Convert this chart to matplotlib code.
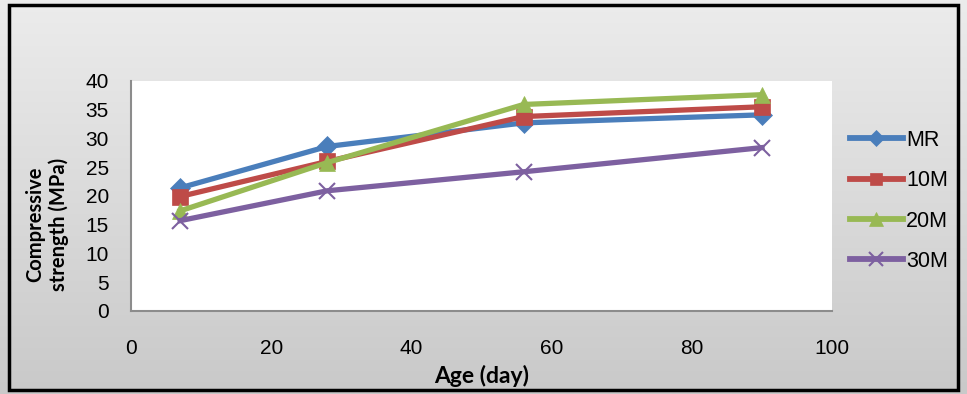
import numpy as np
import matplotlib
matplotlib.use("Agg")
import matplotlib.pyplot as plt
from matplotlib.patches import Rectangle
from matplotlib import font_manager

# Compressive strength (MPa) versus curing age (days)
age_days = [7, 28, 56, 90]
mr = [21.4, 28.6, 32.7, 34.1]
m10 = [19.9, 26.0, 33.8, 35.5]
m20 = [17.4, 25.8, 35.9, 37.6]
m30 = [15.7, 20.9, 24.2, 28.4]
series_labels = ["MR", "10M", "20M", "30M"]

x_ticks = [0, 20, 40, 60, 80, 100]
y_ticks = [0, 5, 10, 15, 20, 25, 30, 35, 40]

names = {f.name for f in font_manager.fontManager.ttflist}
tick_font = "Liberation Sans"
title_font = "Lato" if "Lato" in names else "DejaVu Sans"

fig = plt.figure(figsize=(9.67, 3.94), dpi=100)

# gray gradient backdrop
bg = fig.add_axes([0, 0, 1, 1], zorder=0)
grad = np.linspace(0, 1, 256).reshape(-1, 1)
bg.imshow(grad, aspect="auto", cmap=matplotlib.colors.LinearSegmentedColormap.from_list(
    "g", ["#ececec", "#c9c9c9"]), extent=[0, 1, 0, 1], origin="upper")
bg.set_axis_off()

# outer frame
fig.patches.append(Rectangle((0.009, 0.01), 0.982, 0.978, transform=fig.transFigure,
                             fill=False, edgecolor="black", linewidth=2.5, zorder=10))

ax = fig.add_axes([0.1355, 0.2107, 0.725, 0.584], zorder=1)
ax.set_facecolor("white")

styles = [
    (mr, "#4a7ebb", "D", 10),
    (m10, "#be4b48", "s", 11),
    (m20, "#98b954", "^", 12),
    (m30, "#7d60a0", "x", 12),
]
for (vals, col, mk, ms), lab in zip(styles, series_labels):
    ax.plot(age_days, vals, color=col, linewidth=3.8, marker=mk, markersize=ms,
            markeredgewidth=1.5 if mk == "x" else 0.5, markeredgecolor=col,
            markerfacecolor=col, label=lab, clip_on=False)

ax.set_xlim(0, 100)
ax.set_ylim(0, 40)
ax.set_xticks(x_ticks)
ax.set_yticks(y_ticks)
for s in ["top", "right"]:
    ax.spines[s].set_visible(False)
for s in ["left", "bottom"]:
    ax.spines[s].set_color("#8c8c8c")
    ax.spines[s].set_linewidth(1.5)
ax.tick_params(length=0, labelsize=15)
ax.tick_params(axis="x", pad=20)
ax.tick_params(axis="y", pad=16)
for t in ax.get_xticklabels() + ax.get_yticklabels():
    t.set_fontfamily(tick_font)

ax.set_xlabel("Age (day)", fontfamily=title_font, fontweight="bold", fontsize=16.5, labelpad=5)
fig.text(0.049, 0.431, "Compressive\nstrength (MPa)", rotation=90, ha="center", va="center",
         fontfamily=title_font, fontweight="bold", fontsize=14.5, linespacing=1.2)

leg = fig.legend(loc="center left", bbox_to_anchor=(0.879, 0.49), frameon=False,
                 prop={"family": tick_font, "size": 15.5}, handlelength=2.45,
                 handletextpad=0.15, labelspacing=0.9, borderpad=0, borderaxespad=0,
                 markerscale=0.85)
for h in leg.legend_handles:
    h.set_linewidth(4.2)

fig.savefig("out.png", dpi=100)
